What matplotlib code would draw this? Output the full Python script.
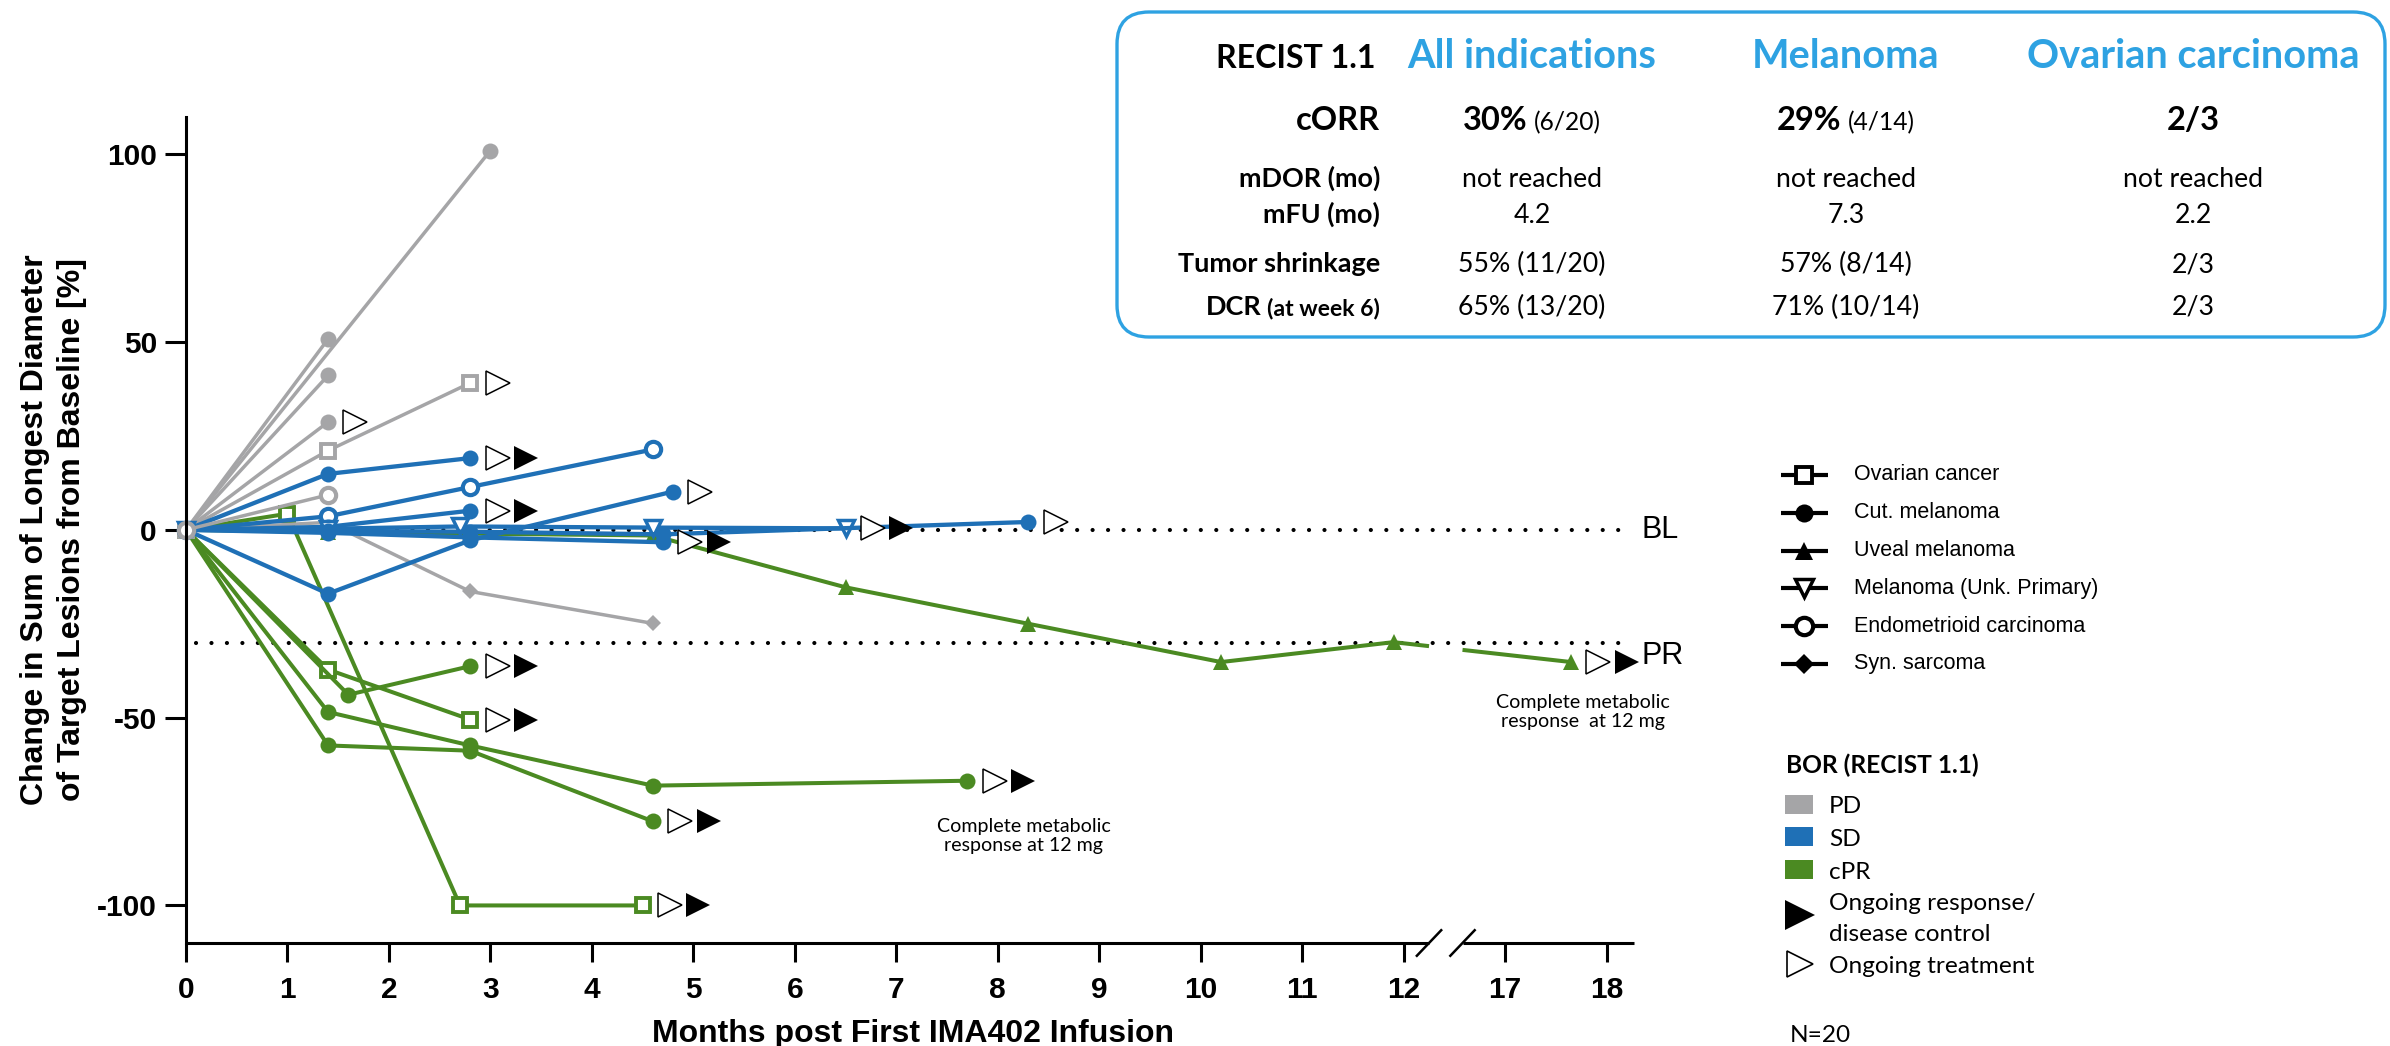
import numpy as np
import matplotlib
matplotlib.use("Agg")
import matplotlib.pyplot as plt
from matplotlib.patches import FancyBboxPatch, Rectangle

plt.rcParams["font.family"] = ["Liberation Sans", "DejaVu Sans"]

W, H = 2390, 1046

# one entry per patient: months after first infusion and % change of the
# sum of longest diameters versus baseline
PATIENT_MONTHS = [
    [0, 1.0, 2.7, 4.5],
    [0, 1.4, 2.8],
    [0, 1.6, 2.8],
    [0, 1.4, 2.8, 4.6, 7.7],
    [0, 1.4, 2.8, 4.6],
    [0, 1.4, 2.8, 4.6, 6.5, 8.3, 10.2, 11.9, 17.65],
    [0, 3.0],
    [0, 1.4],
    [0, 1.4],
    [0, 1.4],
    [0, 1.4, 2.8],
    [0, 1.4, 2.8, 4.6],
    [0, 1.4, 2.8],
    [0, 1.4, 2.8, 4.6],
    [0, 1.4, 2.8, 4.8],
    [0, 1.4, 2.8],
    [0, 1.4, 2.7, 4.6, 6.5],
    [0, 1.4, 2.8, 4.7, 8.3],
    [0, 1.4, 2.8, 4.7],
    [0, 1.4],
]
PATIENT_CHANGE = [
    [0, 4.3, -100, -100],
    [0, -37.2, -50.5],
    [0, -43.9, -36.3],
    [0, -48.5, -57.4, -68.1, -66.8],
    [0, -57.4, -58.8, -77.6],
    [0, -0.5, -1.0, -1.5, -15.3, -25.0, -35.2, -29.9, -35.2],
    [0, 101],
    [0, 50.8],
    [0, 41.1],
    [0, 28.7],
    [0, 21.1, 39.1],
    [0, 2.0, -16.4, -24.9],
    [0, 14.9, 19.1],
    [0, 3.6, 11.4, 21.4],
    [0, -17.0, -2.8, 10.2],
    [0, 0.8, 5.1],
    [0, 0.3, 0.9, 0.6, 0.4],
    [0, -0.3, -0.5, -1.2, 2.1],
    [0, -0.8, -2.0, -3.3],
    [0, 9.3],
]
PATIENT_TUMOR = [
    "Ovarian cancer", "Ovarian cancer", "Cut. melanoma", "Cut. melanoma",
    "Cut. melanoma", "Uveal melanoma",
    "Cut. melanoma", "Cut. melanoma", "Cut. melanoma", "Cut. melanoma",
    "Ovarian cancer", "Syn. sarcoma",
    "Cut. melanoma", "Endometrioid carcinoma", "Cut. melanoma", "Cut. melanoma",
    "Melanoma (Unk. Primary)", "Cut. melanoma", "Cut. melanoma",
    "Endometrioid carcinoma",
]
PATIENT_BOR = ["cPR"] * 6 + ["PD"] * 6 + ["SD"] * 7 + ["PD"]
ONGOING_TREATMENT = [1, 1, 1, 1, 1, 1, 0, 0, 0, 1, 1, 0, 1, 0, 1, 1, 1, 1, 1, 0]
ONGOING_RESPONSE = [1, 1, 1, 1, 1, 1, 0, 0, 0, 0, 0, 0, 1, 0, 0, 1, 1, 0, 1, 0]

# x axis: months, with a break between 12 and 17
TICK_MONTHS = [0, 1, 2, 3, 4, 5, 6, 7, 8, 9, 10, 11, 12, 17, 18]
BASELINE = 0
PR_THRESHOLD = -30

TUMOR_TYPES = ["Ovarian cancer", "Cut. melanoma", "Uveal melanoma",
               "Melanoma (Unk. Primary)", "Endometrioid carcinoma", "Syn. sarcoma"]
BOR_CLASSES = ["PD", "SD", "cPR"]

# RECIST 1.1 summary table
TABLE_TITLE = "RECIST 1.1"
TABLE_COLUMNS = ["All indications", "Melanoma", "Ovarian carcinoma"]
CORR_PCT = ["30%", "29%", "2/3"]
CORR_FRAC = ["(6/20)", "(4/14)", ""]
MDOR = ["not reached", "not reached", "not reached"]
MFU = ["4.2", "7.3", "2.2"]
SHRINKAGE = ["55% (11/20)", "57% (8/14)", "2/3"]
DCR_WEEK6 = ["65% (13/20)", "71% (10/14)", "2/3"]
N_PATIENTS = 20

BOR_COLORS = {"PD": "#A5A5A7", "SD": "#1F70B6", "cPR": "#4B8A22"}
BOR_LW = {"PD": 2.5, "SD": 3.1, "cPR": 2.9}
TUMOR_MARKERS = {
    "Ovarian cancer": dict(marker="s", ms=10.5, open=True, mew=2.8),
    "Cut. melanoma": dict(marker="o", ms=11.5, open=False, mew=0),
    "Uveal melanoma": dict(marker="^", ms=12, open=False, mew=0),
    "Melanoma (Unk. Primary)": dict(marker="v", ms=11, open=True, mew=2.5),
    "Endometrioid carcinoma": dict(marker="o", ms=11, open=True, mew=3.0),
    "Syn. sarcoma": dict(marker="D", ms=8.5, open=False, mew=0),
}
TABLE_BLUE = "#2EA2E2"

X_MAX = 14.27
BREAK_LO, BREAK_HI = 12.25, 12.58


def to_pos(months):
    return np.interp(months, TICK_MONTHS, np.arange(len(TICK_MONTHS)))


def split_at_break(px, py):
    xs, ys = [px[0]], [py[0]]
    for x0, y0, x1, y1 in zip(px[:-1], py[:-1], px[1:], py[1:]):
        if x0 < BREAK_LO and x1 > BREAK_HI:
            ylo = np.interp(BREAK_LO, [x0, x1], [y0, y1])
            yhi = np.interp(BREAK_HI, [x0, x1], [y0, y1])
            xs += [BREAK_LO, np.nan, BREAK_HI]
            ys += [ylo, np.nan, yhi]
        xs.append(x1)
        ys.append(y1)
    return xs, ys


fig = plt.figure(figsize=(W / 100, H / 100), dpi=100)
ax = fig.add_axes([186 / W, 1 - 943 / H, (1634 - 186) / W, (943 - 116.7) / H])
ax.set_xlim(0, X_MAX)
ax.set_ylim(-110, 110)

# patient lines
for i, (months, change) in enumerate(zip(PATIENT_MONTHS, PATIENT_CHANGE)):
    color = BOR_COLORS[PATIENT_BOR[i]]
    style = TUMOR_MARKERS[PATIENT_TUMOR[i]]
    px = to_pos(months)
    lx, ly = split_at_break(list(px), list(change))
    z = 2 + i * 0.01
    ax.plot(lx, ly, color=color, lw=BOR_LW[PATIENT_BOR[i]], clip_on=False,
            zorder=z, solid_capstyle="butt")
    ax.plot(px, change, ls="none", marker=style["marker"], ms=style["ms"],
            mfc="white" if style["open"] else color, mec=color,
            mew=style["mew"], clip_on=False, zorder=z + 0.005)
    if ONGOING_TREATMENT[i]:
        ax.plot(px[-1] + 0.27, change[-1], marker=">", ms=17.5, mfc="white",
                mec="black", mew=1.1, clip_on=False, zorder=5)
    if ONGOING_RESPONSE[i]:
        ax.plot(px[-1] + 0.55, change[-1], marker=">", ms=17.5, mfc="black",
                mec="black", mew=0, clip_on=False, zorder=5)

# baseline and partial-response reference lines
for level in (BASELINE, PR_THRESHOLD):
    ax.plot([0.1, 14.15], [level, level], color="black", lw=3.0,
            ls=(0, (0.01, 3.7)), dash_capstyle="round", zorder=1.5,
            clip_on=False)
ax.text(14.34, BASELINE, "BL", fontsize=22, va="center", ha="left")
ax.text(14.34, PR_THRESHOLD + 0.5, "PR", fontsize=22, va="top", ha="left")

# axes styling
for side in ("top", "right", "bottom"):
    ax.spines[side].set_visible(False)
ax.spines["left"].set_linewidth(2.2)
ax.set_xticks(np.arange(len(TICK_MONTHS)))
ax.set_xticklabels([str(m) for m in TICK_MONTHS], fontsize=21.5, fontweight="bold")
ax.set_yticks([-100, -50, 0, 50, 100])
ax.set_yticklabels(["-100", "-50", "0", "50", "100"], fontsize=21.5,
                   fontweight="bold")
ax.tick_params(axis="x", length=14, width=2.2, pad=10)
ax.tick_params(axis="y", length=15, width=2.2, pad=6)

# broken x axis line
ymin = ax.get_ylim()[0]
ax.plot([0, BREAK_LO], [ymin, ymin], color="black", lw=2.2, clip_on=False,
        solid_capstyle="butt")
ax.plot([BREAK_HI, X_MAX], [ymin, ymin], color="black", lw=2.2, clip_on=False,
        solid_capstyle="butt")
for xb in (BREAK_LO, BREAK_HI):
    ax.plot([xb - 0.12, xb + 0.12], [ymin - 3.4, ymin + 3.4], color="black",
            lw=1.8, clip_on=False)

ax.set_ylabel("Change in Sum of Longest Diameter\nof Target Lesions from Baseline [%]",
              fontsize=23, fontweight="bold", linespacing=1.3)
ax.yaxis.set_label_coords(-0.0684, 0.5)
fig.text(913 / W, 1 - 1042 / H, "Months post First IMA402 Infusion",
         fontsize=23, fontweight="bold", ha="center", va="baseline")

# overlay in pixel coordinates for the table and legends
lay = fig.add_axes([0, 0, 1, 1])
lay.set_xlim(0, W)
lay.set_ylim(H, 0)
lay.set_facecolor("none")
lay.axis("off")
renderer = fig.canvas.get_renderer()


def fit_size(s, width, weight="normal", family="Lato"):
    # font size at which s spans the given width in pixels
    t = lay.text(0, 0, s, fontsize=20, fontweight=weight, family=family)
    w = t.get_window_extent(renderer).width
    t.remove()
    return 20 * width / w


def text_run(x, y, pieces, ha="center", gap=6):
    texts = [lay.text(0, y, s, fontsize=fs, fontweight=fw, family="Lato",
                      va="baseline", ha="left")
             for s, fs, fw in pieces if s]
    widths = [t.get_window_extent(renderer).width for t in texts]
    total = sum(widths) + gap * (len(texts) - 1)
    start = x - total / 2 if ha == "center" else x - total
    for t, w in zip(texts, widths):
        t.set_x(start)
        start += w + gap


fs_head = fit_size("All indications", 249, "bold")
fs_title = fit_size("RECIST 1.1", 160, "bold")
fs_corr = fit_size("cORR", 84, "bold")
fs_frac = fit_size("(6/20)", 67)
fs_label = fit_size("Tumor shrinkage", 202, "bold")
fs_value = fit_size("not reached", 140)
fs_leg_title = fit_size("BOR (RECIST 1.1)", 193, "bold")
fs_leg = fit_size("Ongoing treatment", 205)
fs_note = fit_size("Complete metabolic", 173)

box = FancyBboxPatch((1117, 12), 2385 - 1117, 337 - 12,
                     boxstyle="round,pad=0,rounding_size=32",
                     fc="white", ec=TABLE_BLUE, lw=2.4)
lay.add_patch(box)

col_x = [1532, 1846, 2193]
label_x = 1380
lay.text(label_x - 4, 68, TABLE_TITLE, family="Lato", fontsize=fs_title,
         fontweight="bold", ha="right", va="baseline")
for cx, name in zip(col_x, TABLE_COLUMNS):
    lay.text(cx, 68, name, family="Lato", fontsize=fs_head, fontweight="bold",
             color=TABLE_BLUE, ha="center", va="baseline")

lay.text(label_x, 130, "cORR", family="Lato", fontsize=fs_corr,
         fontweight="bold", ha="right", va="baseline")
for cx, pct, frac in zip(col_x, CORR_PCT, CORR_FRAC):
    text_run(cx, 130, [(pct, fs_corr, "bold"), (frac, fs_frac, "normal")])

rows = [("mDOR (mo)", 187, MDOR), ("mFU (mo)", 223, MFU),
        ("Tumor shrinkage", 272, SHRINKAGE)]
for label, yb, values in rows:
    lay.text(label_x, yb, label, family="Lato", fontsize=fs_label,
             fontweight="bold", ha="right", va="baseline")
    for cx, v in zip(col_x, values):
        lay.text(cx, yb, v, family="Lato", fontsize=fs_value, ha="center",
                 va="baseline")
text_run(label_x, 315, [("DCR", fs_label, "bold"),
                        ("(at week 6)", fs_label * 0.85, "bold")],
         ha="right", gap=5)
for cx, v in zip(col_x, DCR_WEEK6):
    lay.text(cx, 315, v, family="Lato", fontsize=fs_value, ha="center",
             va="baseline")

# tumour type legend
for i, tumor in enumerate(TUMOR_TYPES):
    y = 475 + 37.8 * i
    style = TUMOR_MARKERS[tumor]
    lay.plot([1781, 1828], [y, y], color="black", lw=3, solid_capstyle="butt")
    lay.plot(1804, y, marker=style["marker"], ms=style["ms"] + 1.5,
             mfc="white" if style["open"] else "black", mec="black",
             mew=style["mew"] if style["open"] else 0)
    lay.text(1854, y, tumor, fontsize=15.5, va="center", ha="left")

# best overall response legend
lay.text(1786, 773, "BOR (RECIST 1.1)", family="Lato", fontsize=fs_leg_title,
         fontweight="bold", va="baseline")
for i, bor in enumerate(BOR_CLASSES):
    yc = 804 + 32.8 * i
    lay.add_patch(Rectangle((1785, yc - 9.5), 28, 19, fc=BOR_COLORS[bor],
                            ec="none"))
    lay.text(1829, yc + 9, bor, family="Lato", fontsize=fs_leg, va="baseline")
lay.plot(1800, 915, marker=">", ms=21, mfc="black", mec="black", mew=0)
lay.text(1829, 910, "Ongoing response/", family="Lato", fontsize=fs_leg,
         va="baseline")
lay.text(1829, 941, "disease control", family="Lato", fontsize=fs_leg,
         va="baseline")
lay.plot(1800, 963.5, marker=">", ms=19, mfc="white", mec="black", mew=1.2)
lay.text(1829, 973, "Ongoing treatment", family="Lato", fontsize=fs_leg,
         va="baseline")
lay.text(1790, 1042, f"N={N_PATIENTS}", family="Lato", fontsize=fs_leg,
         va="baseline")

# notes on complete metabolic responses
lay.text(1024, 836, "Complete metabolic\nresponse at 12 mg", family="Lato",
         fontsize=fs_note, ha="center", va="center", linespacing=1.1)
lay.text(1583, 712, "Complete metabolic\nresponse  at 12 mg", family="Lato",
         fontsize=fs_note, ha="center", va="center", linespacing=1.1)

fig.savefig("out.png", dpi=100)
